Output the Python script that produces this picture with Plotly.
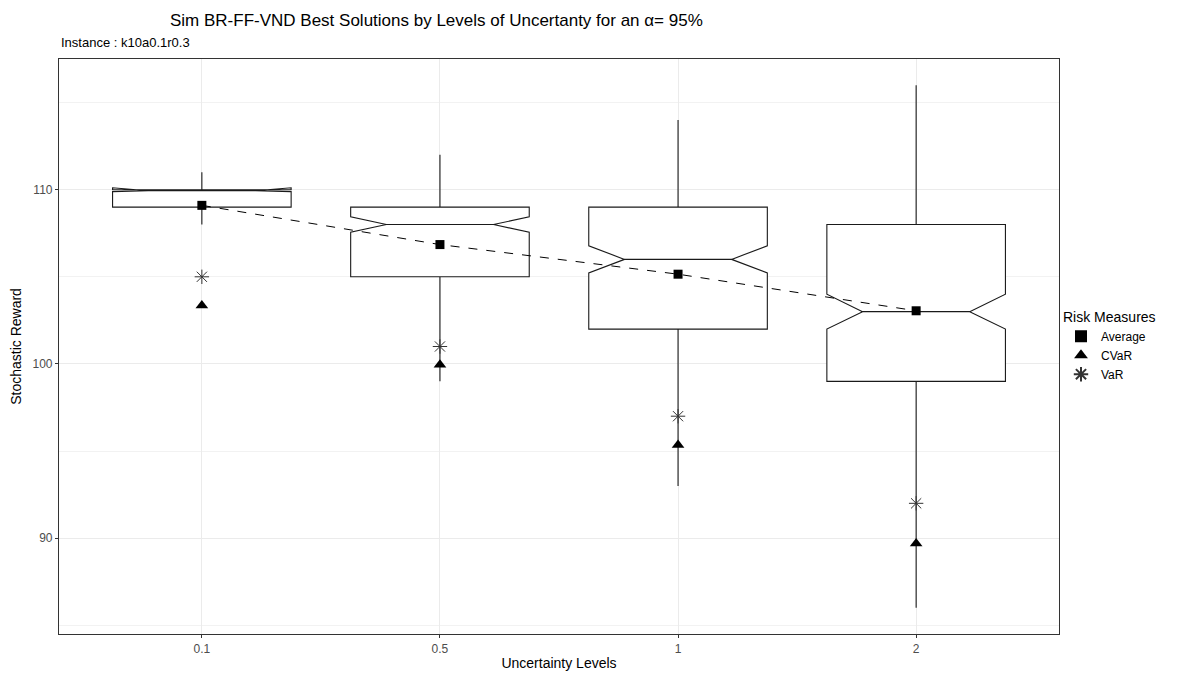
import plotly.graph_objects as go

levels = ["0.1", "0.5", "1", "2"]
q1 = [109, 105, 102, 99]
median = [110, 108, 106, 103]
q3 = [110, 109, 109, 108]
lower_whisker = [108, 99, 93, 86]
upper_whisker = [111, 112, 114, 116]
notch_half = [0.11, 0.44, 0.78, 1.0]
average = [109.1, 106.85, 105.15, 103.05]
cvar = [103.35, 99.95, 95.35, 89.7]
var = [105, 101, 97, 92]

FONT = "Liberation Sans, Arial, sans-serif"

# the page body has an 8px default margin, so the figure is sized to fit
W, H = 1182, 667
OFF = 8

fig = go.Figure()

fig.add_trace(go.Box(
    x=levels, q1=q1, median=median, q3=q3,
    lowerfence=lower_whisker, upperfence=upper_whisker,
    notched=True, notchspan=notch_half, notchwidth=0.2,
    width=0.75, whiskerwidth=0,
    line=dict(color="#1a1a1a", width=1.1),
    fillcolor="white", boxpoints=False,
    showlegend=False, hoverinfo="skip",
))

fig.add_trace(go.Scatter(
    x=levels, y=average, mode="lines",
    line=dict(color="black", width=1, dash="dash"),
    showlegend=False, hoverinfo="skip",
))

fig.add_trace(go.Scatter(
    x=levels, y=average, mode="markers", name="Average",
    marker=dict(symbol="square", size=9, color="black"),
))
fig.add_trace(go.Scatter(
    x=levels, y=cvar, mode="markers", name="CVaR",
    marker=dict(symbol="triangle-up", size=11, color="black"),
))
fig.add_trace(go.Scatter(
    x=levels, y=var, mode="markers", name="VaR",
    marker=dict(symbol="asterisk-open", size=12, color="#333333",
                line=dict(color="#333333", width=1)),
))

fig.update_layout(
    width=W, height=H,
    margin=dict(l=59 - OFF, r=131, t=59 - OFF, b=41, autoexpand=False),
    paper_bgcolor="white", plot_bgcolor="white",
    font=dict(family=FONT, size=13, color="black"),
    title=dict(
        text="Sim BR-FF-VND Best Solutions by Levels of Uncertanty for an α= 95%",
        x=(170 - OFF) / W, xanchor="left", xref="container",
        y=1 - (20 - OFF) / H, yanchor="middle", yref="container",
        font=dict(family=FONT, size=17, color="black"),
    ),
    legend=dict(
        title=dict(text="Risk Measures", font=dict(size=14, color="black")),
        x=1.002, xanchor="left", y=0.5, yanchor="middle",
        font=dict(size=12, color="black"), bgcolor="rgba(0,0,0,0)",
        itemsizing="constant", tracegroupgap=0,
    ),
    annotations=[dict(
        text="Instance : k10a0.1r0.3", xref="paper", yref="paper",
        x=0, y=1 + 17 / 575, xanchor="left", yanchor="middle",
        showarrow=False, font=dict(family=FONT, size=13, color="black"),
    )],
)

fig.update_xaxes(
    type="category", range=[-0.6, 3.6], automargin=False,
    showline=True, mirror=True, linecolor="#333333", linewidth=1.2,
    showgrid=True, gridcolor="#ebebeb", gridwidth=1,
    ticks="outside", ticklen=3, tickcolor="#333333",
    tickfont=dict(size=12, color="#4d4d4d"),
    title=dict(text="Uncertainty Levels", font=dict(size=14, color="black"), standoff=3),
    zeroline=False,
)
fig.update_yaxes(
    range=[84.5, 117.5], tickmode="linear", tick0=90, dtick=10, automargin=False,
    showline=True, mirror=True, linecolor="#333333", linewidth=1.2,
    showgrid=True, gridcolor="#ebebeb", gridwidth=1,
    minor=dict(tickmode="linear", tick0=85, dtick=10, showgrid=True,
               gridcolor="#f2f2f2", gridwidth=1, ticklen=0),
    ticks="outside", ticklen=3, tickcolor="#333333",
    tickfont=dict(size=12, color="#4d4d4d"),
    title=dict(text="Stochastic Reward", font=dict(size=14, color="black"), standoff=8),
    zeroline=False,
)

fig.write_html("out.html")
